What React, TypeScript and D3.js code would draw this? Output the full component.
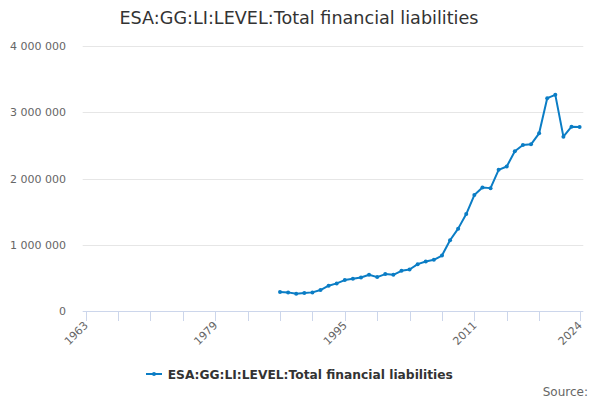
import React from "react";
import * as d3 from "d3";

const years: number[] = [
  1987, 1988, 1989, 1990, 1991, 1992, 1993, 1994, 1995, 1996, 1997, 1998, 1999,
  2000, 2001, 2002, 2003, 2004, 2005, 2006, 2007, 2008, 2009, 2010, 2011, 2012,
  2013, 2014, 2015, 2016, 2017, 2018, 2019, 2020, 2021, 2022, 2023, 2024,
];
const values: number[] = [
  290000, 285000, 265000, 275000, 285000, 320000, 385000, 420000, 470000, 490000,
  510000, 550000, 515000, 560000, 550000, 610000, 630000, 710000, 750000, 775000,
  840000, 1070000, 1245000, 1465000, 1750000, 1865000, 1855000, 2130000, 2180000,
  2410000, 2505000, 2515000, 2680000, 3210000, 3260000, 2630000, 2780000, 2775000,
];
const yTicks: number[] = [0, 1000000, 2000000, 3000000, 4000000];
const xMinorTicks: number[] = d3.range(1963, 2023, 4).concat([2024]);
const xLabels: number[] = [1963, 1979, 1995, 2011, 2024];

const title = "ESA:GG:LI:LEVEL:Total financial liabilities";
const seriesName = "ESA:GG:LI:LEVEL:Total financial liabilities";
const color = "#0b7dc5";
const font = "'DejaVu Sans', sans-serif";

export default function App() {
  const W = 600;
  const H = 400;
  const plotLeft = 82.7;
  const plotRight = 583.3;
  const x = d3.scaleLinear().domain([1963, 2024]).range([85.7, 579.6]);
  const y = d3.scaleLinear().domain([0, 4000000]).range([311.3, 45.7]);
  const line = d3
    .line<number>()
    .x((_, i) => x(years[i]))
    .y((v) => y(v));
  const fmt = (v: number) => d3.format(",")(v).replace(/,/g, " ");

  return (
    <svg
      width={W}
      height={H}
      style={{ position: "absolute", left: 0, top: 0, fontFamily: font }}
    >
      <rect width={W} height={H} fill="#ffffff" />
      <text x={299} y={24} textAnchor="middle" fontSize={17.6} fill="#333333">
        {title}
      </text>
      {yTicks.map((t) => (
        <g key={t}>
          {t > 0 && (
            <line
              x1={plotLeft}
              x2={plotRight}
              y1={Math.round(y(t)) + 0.5}
              y2={Math.round(y(t)) + 0.5}
              stroke="#e6e6e6"
              strokeWidth={1}
            />
          )}
          <text
            x={66}
            y={y(t) + 4}
            textAnchor="end"
            fontSize={11}
            fill="#666666"
          >
            {fmt(t)}
          </text>
        </g>
      ))}
      <line
        x1={plotLeft}
        x2={plotRight}
        y1={311.5}
        y2={311.5}
        stroke="#ccd6eb"
        strokeWidth={1}
      />
      {xMinorTicks.map((t) => (
        <line
          key={t}
          x1={Math.round(x(t)) + 0.5}
          x2={Math.round(x(t)) + 0.5}
          y1={311.5}
          y2={321}
          stroke="#ccd6eb"
          strokeWidth={1}
        />
      ))}
      {xLabels.map((t) => (
        <text
          key={t}
          transform={`translate(${x(t) + 3},${326}) rotate(-45)`}
          textAnchor="end"
          fontSize={11}
          fill="#666666"
        >
          {t}
        </text>
      ))}
      <path
        d={line(values) || ""}
        fill="none"
        stroke={color}
        strokeWidth={2}
        strokeLinejoin="round"
        strokeLinecap="round"
      />
      {values.map((v, i) => (
        <circle key={i} cx={x(years[i])} cy={y(v)} r={2} fill={color} />
      ))}
      <g>
        <line
          x1={146}
          x2={162}
          y1={374}
          y2={374}
          stroke={color}
          strokeWidth={2}
        />
        <circle cx={154} cy={374} r={2} fill={color} />
        <text
          x={167.7}
          y={378.5}
          fontSize={12.25}
          fontWeight="bold"
          fill="#333333"
        >
          {seriesName}
        </text>
      </g>
      <text x={588} y={396} textAnchor="end" fontSize={12} fill="#666666">
        Source:
      </text>
    </svg>
  );
}
